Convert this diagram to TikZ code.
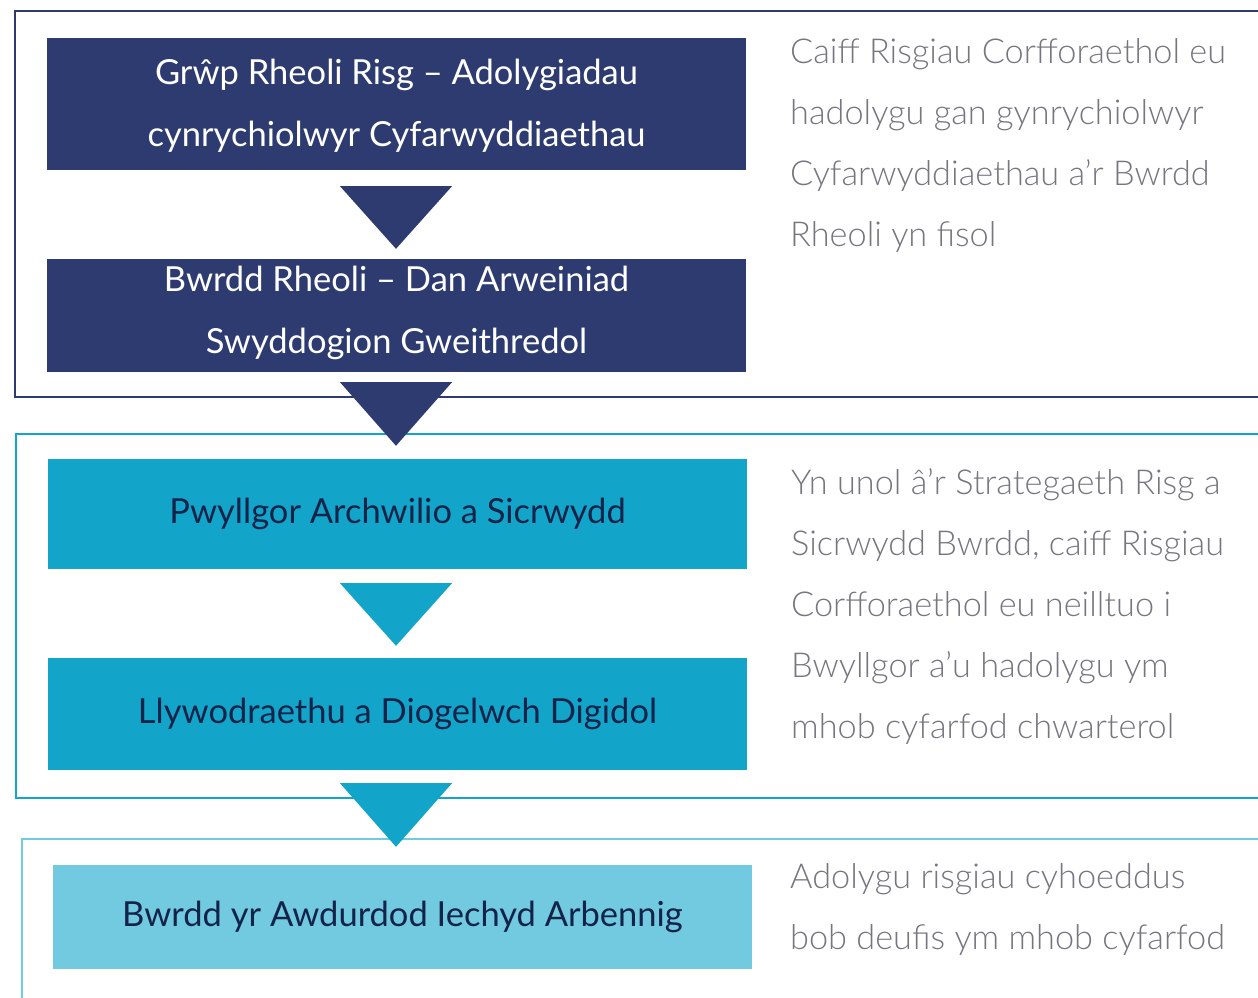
\documentclass[tikz,border=0pt]{standalone}
\usepackage{fontspec}
\usetikzlibrary{calc}
\setmainfont{Lato}
\newfontfamily\lightfont{Lato Light}
\definecolor{navy}{HTML}{2D3B71}
\definecolor{cyanA}{HTML}{13A5C9}
\definecolor{cyanB}{HTML}{71CADF}
\definecolor{inktext}{HTML}{14234A}
\definecolor{greytext}{HTML}{75767F}
\tikzset{
  box/.style={rectangle, inner sep=0pt, minimum width=699pt, align=center,
    font=\fontsize{34.5}{62}\selectfont},
  side/.style={anchor=north west, inner sep=0pt, align=left, text=greytext,
    font=\lightfont\fontsize{34.3}{61}\selectfont},
  frame/.style={line width=2.5pt}
}
\begin{document}
\begin{tikzpicture}[x=1pt,y=-1pt]
\useasboundingbox (0,0) rectangle (1258,997);
\clip (0,0) rectangle (1258,997);
\fill[white] (0,0) rectangle (1258,997);
% frames
\draw[frame, navy] (1270,11) -- (15,11) -- (15,397) -- (1270,397);
\draw[frame, cyanA] (1270,434) -- (16,434) -- (16,798) -- (1270,798);
\draw[frame, cyanB] (1270,839) -- (22,839) -- (22,1010);
% boxes
\node[box, fill=navy, minimum height=132pt] (b1) at (396.5,104) {};
\node[text=white, font=\fontsize{34.5}{62}\selectfont, align=center, inner sep=0pt] (l1) at ($(b1.center)+(0,2)$) {Grŵp Rheoli Risg – Adolygiadau\\cynrychiolwyr Cyfarwyddiaethau};
\node[box, fill=navy, minimum height=113pt] (b2) at (396.5,315.5) {};
\node[text=white, font=\fontsize{34.5}{62}\selectfont, align=center, inner sep=0pt] (l2) at ($(b2.center)+(0,-3)$) {Bwrdd Rheoli – Dan Arweiniad\\Swyddogion Gweithredol};
\node[box, fill=cyanA, text=inktext, minimum height=110pt] (b3) at (397.5,514) {Pwyllgor Archwilio a Sicrwydd};
\node[box, fill=cyanA, text=inktext, minimum height=112pt] (b4) at (397.5,714) {Llywodraethu a Diogelwch Digidol};
\node[box, fill=cyanB, text=inktext, minimum height=104pt] (b5) at (402.5,917) {Bwrdd yr Awdurdod Iechyd Arbennig};
% arrows (triangles between boxes)
\fill[navy] ($(b1.south)+(-56.5,16)$) -- ($(b1.south)+(55.5,16)$) -- ($(b2.north)+(-0.5,-10)$) -- cycle;
\fill[navy] ($(b2.south)+(-56.5,10)$) -- ($(b2.south)+(55.5,10)$) -- ($(b3.north)+(-1.5,-13)$) -- cycle;
\fill[cyanA] ($(b3.south)+(-57.5,14)$) -- ($(b3.south)+(54.5,14)$) -- ($(b4.north)+(-1.5,-12)$) -- cycle;
\fill[cyanA] ($(b4.south)+(-57.5,13)$) -- ($(b4.south)+(54.5,13)$) -- ($(b5.north)+(-6.5,-18)$) -- cycle;
% side texts
\node[side] (t1) at (790,38) {Caiff Risgiau Corfforaethol eu\\hadolygu gan gynrychiolwyr\\Cyfarwyddiaethau a’r Bwrdd\\Rheoli yn fisol};
\node[side] (t2) at (791,468) {Yn unol â’r Strategaeth Risg a\\Sicrwydd Bwrdd, caiff Risgiau\\Corfforaethol eu neilltuo i\\Bwyllgor a’u hadolygu ym\\mhob cyfarfod chwarterol};
\node[side] (t3) at (790,863) {Adolygu risgiau cyhoeddus\\bob deufis ym mhob cyfarfod};
\end{tikzpicture}
\end{document}
